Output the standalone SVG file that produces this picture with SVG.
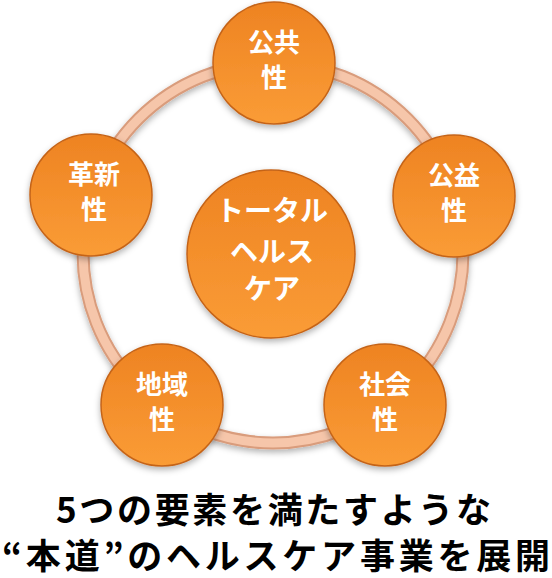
<svg xmlns="http://www.w3.org/2000/svg" width="552" height="578" viewBox="0 0 552 578">
<defs>
<linearGradient id="og" x1="0" y1="0" x2="0" y2="1">
<stop offset="0" stop-color="#ee8322"/>
<stop offset="1" stop-color="#fa9c36"/>
</linearGradient>
<filter id="sh" x="-20%" y="-20%" width="140%" height="150%">
<feDropShadow dx="0" dy="3" stdDeviation="3" flood-color="#000" flood-opacity="0.3"/>
</filter>
<style>
.node{fill:url(#og);stroke:#c56419;stroke-width:1.5;filter:url(#sh)}
.lbl{font-family:"Noto Sans CJK JP","Noto Sans",sans-serif;font-weight:bold;fill:#fff;text-anchor:middle}
.cap{font-family:"Noto Sans CJK JP","Noto Sans",sans-serif;font-weight:bold;fill:#000;font-size:35px}
</style>
</defs>
<rect width="552" height="578" fill="#fff"/>
<g id="connectors">
<circle cx="273" cy="253" r="190" fill="none" stroke="#d99c7c" stroke-width="13" filter="url(#sh)"/>
<circle cx="273" cy="253" r="190" fill="none" stroke="#f6c6aa" stroke-width="9"/>
</g>
<g id="center">
<circle class="node" cx="271" cy="254" r="84"/>
<text class="lbl" font-size="28" x="272" y="221">トータル</text>
<text class="lbl" font-size="28" x="272" y="262">ヘルス</text>
<text class="lbl" font-size="28" x="272" y="299">ケア</text>
</g>
<g id="n-kokyo">
<circle class="node" cx="274" cy="63" r="61"/>
<text class="lbl" font-size="26" x="274" y="52">公共</text>
<text class="lbl" font-size="26" x="274" y="87">性</text>
</g>
<g id="n-koeki">
<circle class="node" cx="454" cy="196" r="61"/>
<text class="lbl" font-size="26" x="454" y="185">公益</text>
<text class="lbl" font-size="26" x="454" y="220">性</text>
</g>
<g id="n-shakai">
<circle class="node" cx="385" cy="405" r="61"/>
<text class="lbl" font-size="26" x="385" y="394">社会</text>
<text class="lbl" font-size="26" x="385" y="429">性</text>
</g>
<g id="n-chiiki">
<circle class="node" cx="162" cy="405" r="61"/>
<text class="lbl" font-size="26" x="162" y="394">地域</text>
<text class="lbl" font-size="26" x="162" y="429">性</text>
</g>
<g id="n-kakushin">
<circle class="node" cx="91" cy="195" r="61"/>
<text class="lbl" font-size="26" x="94" y="184">革新</text>
<text class="lbl" font-size="26" x="94" y="219">性</text>
</g>
<g id="caption">
<text class="cap" x="56" y="523" textLength="435" lengthAdjust="spacing">5つの要素を満たすような</text>
<text class="cap" x="2" y="569" textLength="548" lengthAdjust="spacing">“本道”のヘルスケア事業を展開</text>
</g>
</svg>
